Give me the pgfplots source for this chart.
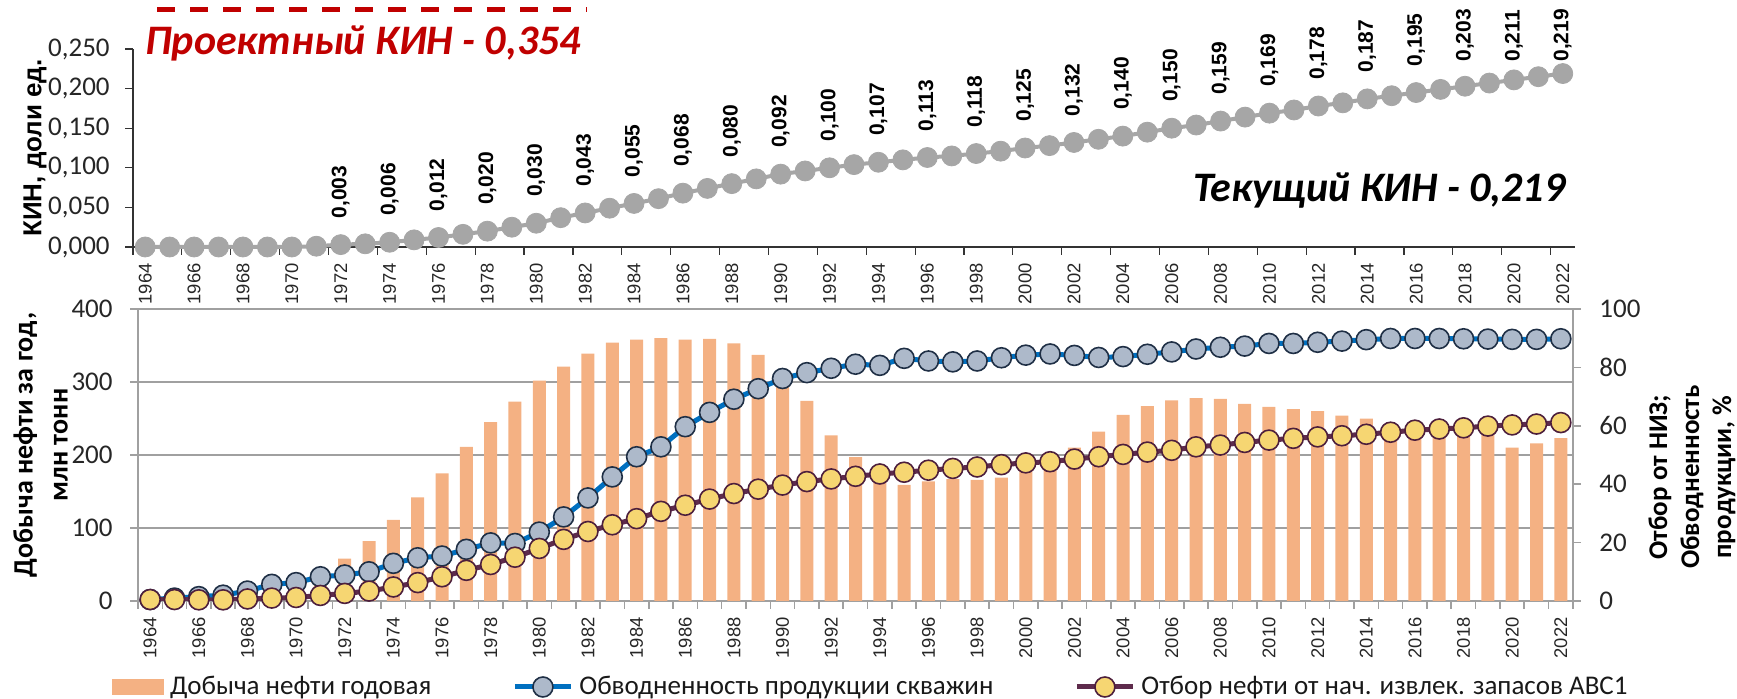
\documentclass[border=0pt]{standalone}
\usepackage{fontspec}
\setmainfont{Carlito}
\newfontfamily\arialf{Liberation Sans}
\usepackage{pgfplots}
\pgfplotsset{compat=1.18}
\usepackage{pgfplotstable}

\definecolor{barc}{HTML}{F4B183}
\definecolor{bline}{HTML}{0070C0}
\definecolor{bmark}{HTML}{ADB9CA}
\definecolor{bedge}{HTML}{1F2F45}
\definecolor{pline}{HTML}{5E2B4C}
\definecolor{ymark}{HTML}{F6D672}
\definecolor{yedge}{HTML}{4D1F3C}
\definecolor{kgrey}{HTML}{A6A6A6}
\definecolor{kred}{HTML}{C00000}
\definecolor{axgrey}{HTML}{A0A0A0}

% KIN, fractions; lab: 1 = label above the point, 2 = label pushed against the top
\pgfplotstableread{
year kin lab
1964 0.000 0
1965 0.000 0
1966 0.000 0
1967 0.000 0
1968 0.000 0
1969 0.000 0
1970 0.000 0
1971 0.001 0
1972 0.003 1
1973 0.004 0
1974 0.006 1
1975 0.009 0
1976 0.012 1
1977 0.016 0
1978 0.020 1
1979 0.025 0
1980 0.030 1
1981 0.037 0
1982 0.043 1
1983 0.049 0
1984 0.055 1
1985 0.061 0
1986 0.068 1
1987 0.074 0
1988 0.080 1
1989 0.086 0
1990 0.092 1
1991 0.096 0
1992 0.100 1
1993 0.104 0
1994 0.107 1
1995 0.110 0
1996 0.113 1
1997 0.115 0
1998 0.118 1
1999 0.121 0
2000 0.125 1
2001 0.128 0
2002 0.132 1
2003 0.136 0
2004 0.140 1
2005 0.145 0
2006 0.150 1
2007 0.154 0
2008 0.159 1
2009 0.164 0
2010 0.169 1
2011 0.173 0
2012 0.178 1
2013 0.182 0
2014 0.187 1
2015 0.191 0
2016 0.195 1
2017 0.199 0
2018 0.203 2
2019 0.207 0
2020 0.211 2
2021 0.215 0
2022 0.219 2
}\kintab

% oil: mln t per year; wc: water cut, %; rec: recovered share of initial reserves, %
\pgfplotstableread{
year oil wc rec
1964 1 0.5 0.5
1965 1 1.0 0.5
1966 3 1.5 0.4
1967 6 2.0 0.4
1968 12 3.4 0.7
1969 21 5.7 1.0
1970 28 6.3 1.2
1971 38 8.3 1.9
1972 58 8.9 2.6
1973 82 10.0 3.4
1974 111 12.9 4.8
1975 142 14.8 6.3
1976 175 15.4 8.3
1977 211 17.7 10.5
1978 245 19.9 12.5
1979 273 19.7 15.0
1980 302 23.6 18.0
1981 321 28.8 21.1
1982 339 35.3 23.8
1983 354 42.5 26.1
1984 358 49.4 28.2
1985 360 52.8 30.7
1986 358 59.7 32.8
1987 359 64.6 34.9
1988 353 69.1 36.8
1989 337 72.7 38.3
1990 296 76.2 39.7
1991 274 78.2 40.9
1992 227 79.7 41.8
1993 197 81.1 42.7
1994 172 80.7 43.5
1995 159 83.1 44.1
1996 164 82.2 44.8
1997 167 81.9 45.4
1998 166 82.2 45.9
1999 169 83.3 46.7
2000 180 84.2 47.3
2001 197 84.6 47.7
2002 210 84.1 48.6
2003 232 83.4 49.4
2004 255 83.7 50.2
2005 267 84.5 51.0
2006 275 85.3 51.6
2007 278 86.3 52.8
2008 277 86.9 53.4
2009 270 87.3 54.3
2010 266 88.2 55.1
2011 263 88.2 55.7
2012 260 88.6 56.2
2013 254 89.0 56.6
2014 250 89.5 57.1
2015 242 89.9 57.8
2016 238 89.9 58.5
2017 236 89.9 58.9
2018 230 89.8 59.3
2019 229 89.7 59.9
2020 210 89.6 60.3
2021 216 89.6 60.6
2022 223 89.8 61.1
}\prodtab

\pgfplotsset{
  yearlabels/.style={
    xtick={1964,1966,...,2022},
    scaled x ticks=false,
    xticklabel style={font=\arialf\fontsize{9.2}{10}\selectfont, text=black!85,
      inner sep=0pt, yshift=-8pt, rotate=90, anchor=east,
      /pgf/number format/1000 sep={}},
  },
  bignum/.style={font=\fontsize{13.5}{14}\selectfont, text=black!85, inner sep=0pt},
  kinlabels/.style={
    draw=none, mark=none, point meta=explicit,
    nodes near coords={\pgfmathprintnumber[fixed,fixed zerofill,precision=3,use comma]{\pgfplotspointmeta}},
    every node near coord/.append style={font=\arialf\bfseries\fontsize{10.5}{11}\selectfont,
      rotate=90, anchor=west, inner sep=0pt},
  },
  linelegend/.style={legend image code/.code={%
    \draw[mark repeat=2,mark phase=2,##1] plot coordinates {(0pt,0pt) (14pt,0pt) (28pt,0pt)};}},
  barlegend/.style={legend image code/.code={%
    \fill[barc] (0pt,-3.75pt) rectangle (25.5pt,3.75pt);}},
}

\begin{document}
\begin{tikzpicture}
\path[use as bounding box] (0pt,0pt) rectangle (868.5pt,-349.5pt);

% upper panel: KIN
\begin{axis}[
  at={(66.5pt,-123.5pt)}, anchor=south west,
  scale only axis, width=721pt, height=99pt,
  xmin=1963.5, xmax=2022.5, ymin=0, ymax=0.25,
  axis x line*=bottom, axis y line*=left,
  axis line style={black!80, line width=0.6pt},
  tick align=outside, major tick length=0pt, minor tick length=4pt,
  minor tick style={black!80, line width=0.6pt},
  yearlabels,
  minor xtick={1963.5,1965.5,...,2021.5},
  ytick={0,0.05,0.1,0.15,0.2,0.25},
  minor ytick={0,0.05,0.1,0.15,0.2,0.25},
  scaled y ticks=false,
  yticklabel style={bignum, anchor=east, xshift=-11.5pt,
    /pgf/number format/.cd, fixed, fixed zerofill, precision=3, use comma},
  /pgf/number format/assume math mode=true,
  clip=false,
]
\addplot[color=kgrey, line width=2pt, mark=*, mark size=5pt,
  mark options={fill=kgrey, draw=kgrey, line width=0.4pt}]
  table[x=year, y=kin] {\kintab};
% value labels, every second year
\addplot[kinlabels, restrict expr to domain={\thisrow{lab}}{0.5:1.5},
  every node near coord/.append style={inner xsep=13pt}]
  table[x=year, y=kin, meta=kin] {\kintab};
\addplot[kinlabels, restrict expr to domain={\thisrow{lab}}{1.5:2.5}]
  table[x=year, y expr=0.2336, meta=kin] {\kintab};
\end{axis}

% lower panel: production, bars on the left axis
\begin{axis}[
  at={(69pt,-300.5pt)}, anchor=south west,
  scale only axis, width=717.5pt, height=146pt,
  xmin=1963.5, xmax=2022.5, ymin=0, ymax=400,
  axis x line*=bottom, axis y line*=left,
  axis line style={axgrey, line width=0.8pt},
  ymajorgrids, grid style={axgrey, line width=0.8pt},
  tick align=outside, major tick length=0pt, minor tick length=4pt,
  minor tick style={axgrey, line width=0.8pt},
  yearlabels,
  minor xtick={1963.5,1964.5,...,2022.5},
  ytick={0,100,...,400}, minor ytick={0,100,...,400},
  yticklabel style={bignum, anchor=east, xshift=-12.5pt},
  /pgf/number format/assume math mode=true,
  ybar, bar width=6.5pt,
]
\addplot[fill=barc, draw=none] table[x=year, y=oil] {\prodtab};
\end{axis}

% lower panel: percentages on the right axis
\begin{axis}[
  at={(69pt,-300.5pt)}, anchor=south west,
  scale only axis, width=717.5pt, height=146pt,
  xmin=1963.5, xmax=2022.5, ymin=0, ymax=100,
  axis x line=none, axis y line*=right,
  axis line style={axgrey, line width=0.8pt},
  tick align=outside, major tick length=0pt, minor tick length=4pt,
  minor tick style={axgrey, line width=0.8pt},
  ytick={0,20,...,100}, minor ytick={0,20,...,100},
  yticklabel style={bignum, anchor=west, xshift=13pt},
  /pgf/number format/assume math mode=true,
  legend columns=3,
  legend style={at={(-0.0181,-0.2945)}, anchor=west, draw=none, fill=none,
    inner sep=0pt, font=\fontsize{13.5}{15}\selectfont, text=black!90,
    nodes={inner sep=0pt},
    /tikz/every odd column/.append style={column sep=3pt},
    /tikz/every even column/.append style={column sep=40.5pt}},
  legend cell align=left,
]
\addlegendimage{barlegend}
\addlegendentry{Добыча нефти годовая}
\addplot[color=bline, line width=2.5pt, mark=*, mark size=5pt,
  mark options={fill=bmark, draw=bedge, line width=0.8pt}, linelegend]
  table[x=year, y=wc] {\prodtab};
\addlegendentry{Обводненность продукции скважин}
\addplot[color=pline, line width=2.5pt, mark=*, mark size=5pt,
  mark options={fill=ymark, draw=yedge, line width=0.8pt}, linelegend]
  table[x=year, y=rec] {\prodtab};
\addlegendentry{Отбор нефти от нач. извлек. запасов ABC1}
\end{axis}

% titles and notes
\draw[kred, line width=2.5pt, dash pattern=on 9pt off 7.5pt] (78.5pt,-5pt) -- (293.5pt,-5pt);
\node[anchor=base west, inner sep=0pt, text=kred, font=\bfseries\itshape\fontsize{21}{22}\selectfont]
  at (72.5pt,-27.5pt) {Проектный КИН - 0,354};
\node[anchor=base east, inner sep=0pt, font=\bfseries\itshape\fontsize{21}{22}\selectfont]
  at (783pt,-101pt) {Текущий КИН - 0,219};
\node[rotate=90, font=\arialf\bfseries\fontsize{13}{14}\selectfont] at (17.5pt,-74pt) {КИН, доли ед.};
\node[rotate=90, align=center, font=\bfseries\fontsize{14}{17.5}\selectfont]
  at (20.25pt,-222.5pt) {Добыча нефти за год,\\млн тонн};
\node[rotate=90, align=center, font=\bfseries\fontsize{13.5}{16}\selectfont]
  at (846pt,-238.5pt) {Отбор от НИЗ;\\Обводненность\\продукции, \%};
\end{tikzpicture}
\end{document}
